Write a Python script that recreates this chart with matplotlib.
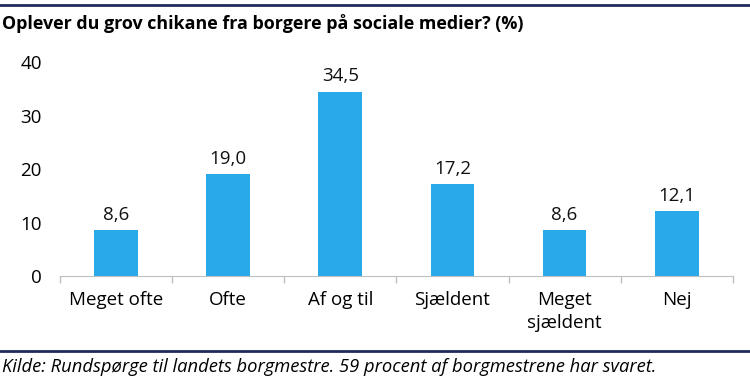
import numpy as np
import matplotlib.pyplot as plt
from matplotlib.lines import Line2D

########## Data

categories = ['Meget ofte', 'Ofte', 'Af og til', 'Sjældent', 'Meget\nsjældent', 'Nej']
values = [8.6, 19.0, 34.5, 17.2, 8.6, 12.1]
yticks = [0, 10, 20, 30, 40]

title = 'Oplever du grov chikane fra borgere på sociale medier? (%)'
source = 'Kilde: Rundspørge til landets borgmestre. 59 procent af borgmestrene har svaret.'

########## Plot

plt.rcParams['font.family'] = ['Open Sans', 'DejaVu Sans']

fig = plt.figure(figsize=(7.5, 3.86), dpi=100)
ax = fig.add_axes([0.08, 0.285, 0.897, 0.554])

x = np.arange(len(categories))
ax.bar(x, values, width=0.39, color='#29A9EA')

for xi, v in zip(x, values):
    ax.text(xi, v + 1.2, f'{v:.1f}'.replace('.', ','), ha='center', va='bottom',
            fontsize=13.5, color='#111111')

ax.set_xlim(-0.5, len(categories) - 0.5)
ax.set_ylim(0, 40)
ax.set_yticks(yticks)
ax.set_yticklabels([str(t) for t in yticks], fontsize=13.5)
ax.set_xticks(x)
ax.set_xticklabels(categories, fontsize=13.5, linespacing=1.35)
ax.set_xticks(np.arange(-0.5, len(categories)), minor=True)
ax.tick_params(axis='x', which='major', length=0, pad=11)
ax.tick_params(axis='x', which='minor', length=5, color='#BFBFBF', width=1)
ax.tick_params(axis='y', length=0, pad=13)

for s in ['top', 'right', 'left']:
    ax.spines[s].set_visible(False)
ax.spines['bottom'].set_color('#BFBFBF')

fig.text(0.003, 0.94, title, fontsize=12.9, fontweight='bold', va='center', ha='left')
fig.text(0.003, 0.048, source, fontsize=13.2, style='italic', va='center', ha='left')

fig.add_artist(Line2D([0, 1], [0.987, 0.987], color='#1F2B5B', lw=2))
fig.add_artist(Line2D([0, 1], [0.091, 0.091], color='#1F2B5B', lw=2))

plt.savefig('out.png', dpi=100)
